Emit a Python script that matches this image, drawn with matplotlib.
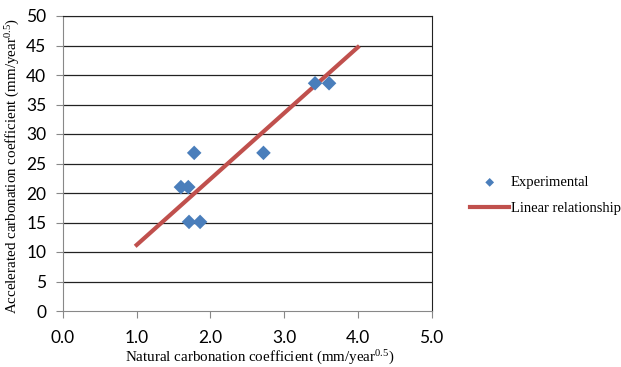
import matplotlib
matplotlib.use('Agg')
import matplotlib.pyplot as plt

# experimental points
nat_coef = [3.42, 3.61, 1.78, 2.72, 1.60, 1.70, 1.71, 1.86]
acc_coef = [38.6, 38.6, 26.8, 26.8, 21.0, 21.0, 15.1, 15.1]

# linear relationship
line_x = [1.0, 4.0]
line_y = [11.2, 44.7]

xticks = [0, 1, 2, 3, 4, 5]
yticks = [0, 5, 10, 15, 20, 25, 30, 35, 40, 45, 50]

plt.rcParams['mathtext.fontset'] = 'custom'
plt.rcParams['mathtext.rm'] = 'Liberation Serif'
plt.rcParams['mathtext.it'] = 'Liberation Serif'

fig = plt.figure(figsize=(6.21, 3.67), dpi=100)
ax = fig.add_axes([63/621, 1 - 311/367, (431.5-63)/621, (311-16)/367])

ax.scatter(nat_coef, acc_coef, marker='D', s=55, color='#4a7ebb', zorder=3,
           label='Experimental', edgecolors='none')
ax.plot(line_x, line_y, color='#c0504d', lw=3, zorder=2, label='Linear relationship')

ax.set_xlim(0, 5)
ax.set_ylim(0, 50)
ax.set_xticks(xticks)
ax.set_xticklabels(['%.1f' % v for v in xticks])
ax.set_yticks(yticks)
for y in yticks[1:]:
    ax.axhline(y, color='#222222', lw=0.9, zorder=1)

for s in ['left', 'bottom']:
    ax.spines[s].set_color('#888888')
for s in ['top', 'right']:
    ax.spines[s].set_color('#222222')
ax.tick_params(direction='out', length=5, color='#888888', labelsize=12.5, pad=7)
ax.tick_params(axis='x', pad=9)
for lab in ax.get_xticklabels() + ax.get_yticklabels():
    lab.set_family('Lato')

ax.set_xlabel(r'Natural carbonation coefficient (mm/year$^{\mathrm{0.5}}$)',
              family='Liberation Serif', fontsize=10.8)
ax.set_ylabel(r'Accelerated carbonation coefficient (mm/year$^{\mathrm{0.5}}$)',
              family='Liberation Serif', fontsize=10.8)
ax.xaxis.set_label_coords((260 - 63) / 368.5, -(349 - 311) / 295)
ax.yaxis.set_label_coords(-(63 - 22) / 368.5, 0.49)

fig.legend(loc='upper left', bbox_to_anchor=(470/621, 1 - 176/367), frameon=False,
           prop={'family': 'Liberation Serif', 'size': 10.5}, handlelength=2.7,
           handletextpad=0.1, labelspacing=0.85, scatterpoints=1, markerscale=0.6,
           borderpad=0, borderaxespad=0)

fig.savefig('out.png', dpi=100)
